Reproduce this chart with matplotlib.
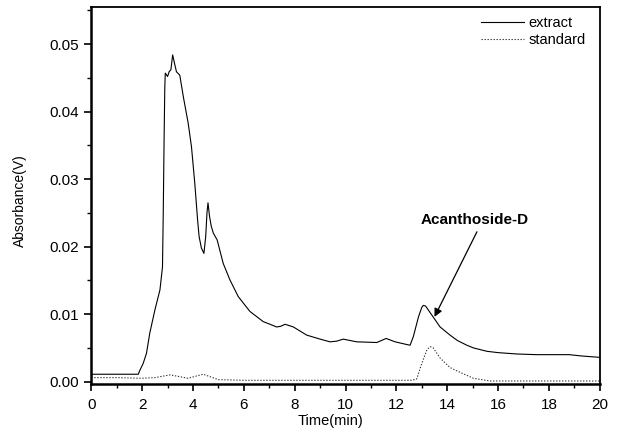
import matplotlib
matplotlib.use("Agg")
import matplotlib.pyplot as plt
from matplotlib.ticker import MultipleLocator

# ── Data ──────────────────────────────────────────────────────────────────────
extract_t = [0, 1.85, 1.9, 2.04, 2.17, 2.3, 2.5, 2.7, 2.8, 2.83, 2.86, 2.89,
             2.91, 3.0, 3.06, 3.13, 3.2, 3.27, 3.35, 3.48, 3.62, 3.81, 3.94,
             4.07, 4.18, 4.24, 4.33, 4.43, 4.5, 4.55, 4.59, 4.65, 4.72, 4.8,
             4.95, 5.19, 5.45, 5.78, 6.24, 6.76, 7.03, 7.29, 7.45, 7.62, 7.95,
             8.47, 9.0, 9.39, 9.65, 9.91, 10.44, 11.23, 11.6, 11.95, 12.41,
             12.54, 12.67, 12.87, 13.0, 13.06, 13.15, 13.26, 13.5, 13.72,
             14.11, 14.4, 14.77, 15.03, 15.56, 16.0, 16.74, 17.5, 18.3, 18.8,
             19.3, 20.0]
extract_y = [0.0011, 0.0011, 0.0016, 0.0027, 0.0042, 0.0072, 0.0106, 0.0136,
             0.0170, 0.0250, 0.0350, 0.0435, 0.0457, 0.0452, 0.0459, 0.0462,
             0.0484, 0.0472, 0.0459, 0.0454, 0.0422, 0.0383, 0.0348, 0.0294,
             0.0240, 0.0215, 0.0198, 0.0190, 0.0215, 0.0250, 0.0265, 0.0245,
             0.0230, 0.0220, 0.0210, 0.0175, 0.0151, 0.0126, 0.0104, 0.0089,
             0.0085, 0.0081, 0.0082, 0.0085, 0.0081, 0.0069, 0.0063, 0.0059,
             0.0060, 0.0063, 0.0059, 0.0058, 0.0064, 0.0059, 0.0055, 0.0054,
             0.0067, 0.0096, 0.0110, 0.0113, 0.0112, 0.0106, 0.0093, 0.0081,
             0.0069, 0.0061, 0.0054, 0.0050, 0.0045, 0.0043, 0.0041, 0.0040,
             0.0040, 0.0040, 0.0038, 0.0036]

standard_t = [0, 1.0, 2.0, 2.5, 3.09, 3.4, 3.8, 4.1, 4.4, 4.7, 5.0, 6.0, 8.0,
              10.0, 12.0, 12.6, 12.8, 13.0, 13.2, 13.33, 13.45, 13.72, 14.11,
              14.38, 15.03, 15.69, 17.0, 20.0]
standard_y = [0.0006, 0.0006, 0.0005, 0.0006, 0.0010, 0.0008, 0.0005, 0.0008,
              0.0011, 0.0007, 0.0003, 0.0002, 0.0002, 0.0002, 0.0002, 0.0002,
              0.0004, 0.0027, 0.0047, 0.0052, 0.0050, 0.0035, 0.0021, 0.0016,
              0.0005, 0.0001, 0.0001, 0.0001]

X_TICKS = list(range(0, 21, 2))
Y_TICKS = [0.00, 0.01, 0.02, 0.03, 0.04, 0.05]

PEAK_LABEL = "Acanthoside-D"
PEAK_POINT = (13.5, 0.0096)      # arrow head
LABEL_POS = (15.1, 0.0239)       # text centre
ARROW_TAIL = (15.17, 0.0222)

# ── Plot ──────────────────────────────────────────────────────────────────────
plt.rcParams["font.family"] = ["Liberation Sans", "DejaVu Sans"]

fig = plt.figure(figsize=(6.17, 4.37), dpi=100)
ax = fig.add_axes([0.148, 0.122, 0.824, 0.862])

ax.plot(extract_t, extract_y, color="black", lw=0.8, label="extract")
ax.plot(standard_t, standard_y, color="#333333", lw=0.8,
        ls=(0, (1.2, 1.5)), label="standard")

ax.set_xlim(0, 20)
ax.set_ylim(-0.0003, 0.0555)
ax.set_xticks(X_TICKS)
ax.set_yticks(Y_TICKS)
ax.set_yticklabels([f"{v:.2f}" for v in Y_TICKS])
ax.xaxis.set_minor_locator(MultipleLocator(1))
ax.yaxis.set_minor_locator(MultipleLocator(0.005))
ax.tick_params(which="major", direction="out", length=5, width=1.2,
               labelsize=11)
ax.tick_params(axis="x", which="major", pad=5)
ax.tick_params(axis="y", which="major", pad=4)
ax.tick_params(which="minor", direction="out", length=3, width=1.0)

for side in ("left", "bottom"):
    ax.spines[side].set_linewidth(1.8)
for side in ("top", "right"):
    ax.spines[side].set_linewidth(1.3)

ax.set_xlabel("Time(min)", fontsize=10.5)
ax.set_ylabel("Absorbance(V)", fontsize=10)
ax.xaxis.set_label_coords(0.471, -0.081)
ax.yaxis.set_label_coords(-0.127, 0.487)

ax.legend(loc="upper right", frameon=False, fontsize=10.5,
          handlelength=3.0, handletextpad=0.3, labelspacing=0.25,
          borderaxespad=0.2, bbox_to_anchor=(0.99, 1.0))

ax.text(*LABEL_POS, PEAK_LABEL, fontsize=11, fontweight="bold",
        ha="center", va="center")
ax.annotate("", xy=PEAK_POINT, xytext=ARROW_TAIL,
            arrowprops=dict(arrowstyle="-|>", color="black", lw=0.9,
                            mutation_scale=12, shrinkA=0, shrinkB=0))

fig.savefig("out.png", dpi=100)
